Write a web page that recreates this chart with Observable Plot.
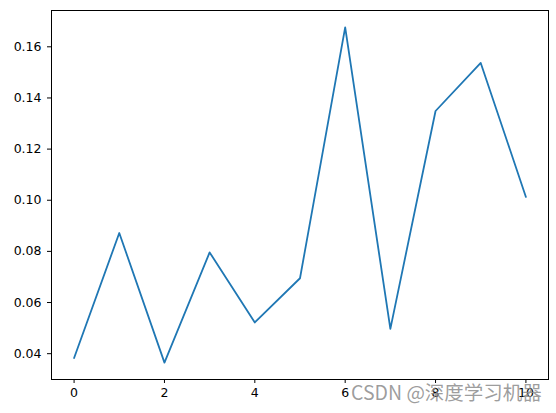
<!DOCTYPE html>
<html><head><meta charset="utf-8">
<script src="https://cdn.jsdelivr.net/npm/d3@7"></script>
<script src="https://cdn.jsdelivr.net/npm/@observablehq/plot@0.6"></script>
<style>
body{margin:0;background:#fff;}
#wrap{position:relative;width:556px;height:413px;}
#wm{position:absolute;left:351px;top:379px;font-family:"Noto Sans CJK SC",sans-serif;font-size:19.5px;color:rgba(140,140,140,0.85);white-space:nowrap;line-height:26px;}
</style></head>
<body><div id="wrap"><div id="wm">CSDN @深度学习机器</div></div>
<script>
const xs = [0,1,2,3,4,5,6,7,8,9,10];
const ys = [0.0383,0.0872,0.0365,0.0796,0.0522,0.0695,0.1676,0.0497,0.1349,0.1537,0.1013];
const xTicks = [0,2,4,6,8,10];
const yTicks = [0.04,0.06,0.08,0.10,0.12,0.14,0.16];
const data = xs.map((x,i)=>({x, y: ys[i]}));
const chart = Plot.plot({
  width: 556, height: 413,
  marginLeft: 51, marginTop: 10, marginRight: 8, marginBottom: 34,
  style: {fontFamily: "DejaVu Sans", fontSize: "12.5px", color: "black", background: "white"},
  x: {domain: [-0.5, 10.5], ticks: xTicks, tickSize: 4, tickPadding: 5, label: null, tickFormat: d => String(d)},
  y: {domain: [0.0299, 0.1742], ticks: yTicks, tickSize: 4, tickPadding: 6, label: null, tickFormat: d3.format(".2f")},
  marks: [
    Plot.line(data, {x: "x", y: "y", stroke: "#1f77b4", strokeWidth: 1.8}),
    Plot.frame({stroke: "black", strokeWidth: 1})
  ]
});
document.getElementById("wrap").prepend(chart);
</script>
</body></html>
